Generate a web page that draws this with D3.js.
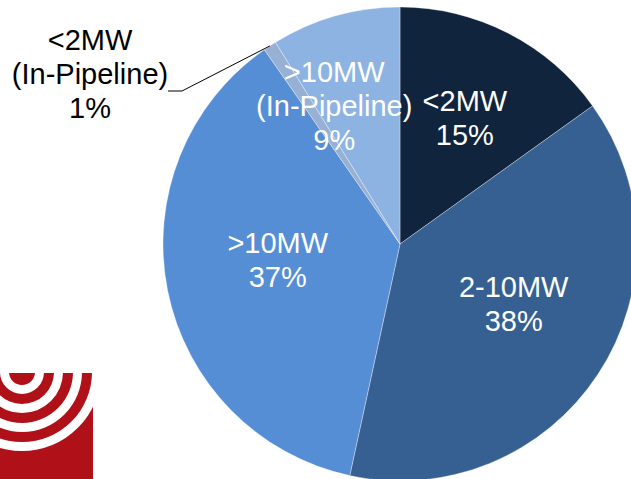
<!DOCTYPE html>
<html>
<head>
<meta charset="utf-8">
<script src="https://cdn.jsdelivr.net/npm/d3@7"></script>
<style>
html,body{margin:0;padding:0;background:#fff;overflow:hidden;}
svg{display:block;}
</style>
</head>
<body>
<svg id="chart" width="631" height="479"></svg>
<script>
// ---- data ----
const categories = ["<2MW", "2-10MW", ">10MW", "<2MW (In-Pipeline)", ">10MW (In-Pipeline)"];
const labelLines = [["<2MW"], ["2-10MW"], [">10MW"], ["<2MW", "(In-Pipeline)"], [">10MW", "(In-Pipeline)"]];
const shares = [15.1, 38.3, 36.9, 0.9, 8.8];
const percentLabels = ["15%", "38%", "37%", "1%", "9%"];
const colors = ["#10243e", "#366092", "#558ed5", "#97b1d4", "#8db3e2"];

// ---- drawing ----
const svg = d3.select("#chart");
const cx = 400, cy = 244, R = 237;

// Logo (decorative, bottom-left)
const defs = svg.append("defs");
defs.append("clipPath").attr("id", "logoClip")
  .append("rect").attr("x", 0).attr("y", 373).attr("width", 93).attr("height", 110);
const logo = svg.append("g").attr("clip-path", "url(#logoClip)");
logo.append("rect").attr("x", 0).attr("y", 373).attr("width", 93).attr("height", 110).attr("fill", "#b01119");
const ringRadii = [[13, 22], [32, 41], [51, 60], [70, 79]];
ringRadii.forEach(([r0, r1]) => {
  logo.append("path")
    .attr("transform", "translate(22,372)")
    .attr("d", d3.arc().innerRadius(r0).outerRadius(r1).startAngle(0).endAngle(2 * Math.PI)())
    .attr("fill", "#ffffff");
});

const g = svg.append("g").attr("transform", `translate(${cx},${cy})`);

const pie = d3.pie().sort(null).value(d => d.v);
const data = pie(shares.map((v, i) => ({ v, i })));
const arc = d3.arc().innerRadius(0).outerRadius(R);

g.selectAll("path.slice").data(data).enter().append("path")
  .attr("class", "slice")
  .attr("d", arc)
  .attr("fill", d => colors[d.data.i])
  .attr("stroke", "#ffffff")
  .attr("stroke-opacity", 0.55)
  .attr("stroke-width", 0.6);

// labels
const labelArc = d3.arc().innerRadius(142).outerRadius(142);
const nudge = { 0: [0, 0], 1: [-5, -18], 2: [17, -12], 4: [-27, -2] };
const fontSize = 29, lineH = 34;
const font = "'Liberation Sans', Arial, sans-serif";

function drawLabel(x, yMid, lines, fill) {
  const n = lines.length;
  const t = svg.append("text")
    .attr("text-anchor", "middle")
    .attr("font-family", font)
    .attr("font-size", fontSize)
    .attr("fill", fill);
  lines.forEach((ln, k) => {
    t.append("tspan")
      .attr("x", x)
      .attr("y", yMid + (k - (n - 1) / 2) * lineH + fontSize * 0.36)
      .text(ln);
  });
}

data.forEach(d => {
  const i = d.data.i;
  const lines = labelLines[i].concat([percentLabels[i]]);
  if (i === 3) {
    // outside label with leader line
    const edge = d3.arc().innerRadius(R).outerRadius(R).centroid(d);
    const ex = cx + edge[0], ey = cy + edge[1];
    const lx = 90, ly = 74;
    svg.append("path")
      .attr("d", `M${lx + 78},${ly + 17} L${lx + 92},${ly + 17} L${ex},${ey}`)
      .attr("fill", "none").attr("stroke", "#000").attr("stroke-width", 1);
    drawLabel(lx, ly, lines, "#000");
  } else {
    const c = labelArc.centroid(d);
    const nd = nudge[i] || [0, 0];
    drawLabel(cx + c[0] + nd[0], cy + c[1] + nd[1], lines, "#ffffff");
  }
});
</script>
</body>
</html>
